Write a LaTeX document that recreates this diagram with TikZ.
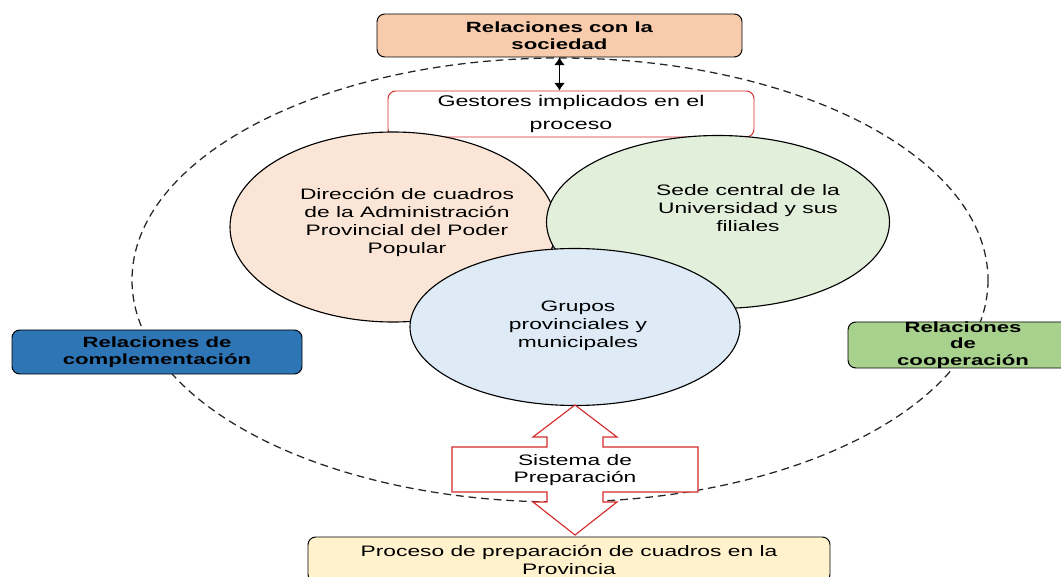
\documentclass[tikz,border=0pt]{standalone}
\usepackage{fontspec}
\setmainfont{Liberation Sans}[FakeStretch=1.5]
\usepackage{xcolor}
\usetikzlibrary{shapes.geometric,arrows.meta}
\definecolor{sociedad}{HTML}{F8CBAD}
\definecolor{direccion}{HTML}{FBE5D6}
\definecolor{sede}{HTML}{E2EFDA}
\definecolor{grupos}{HTML}{DEEBF7}
\definecolor{complem}{HTML}{2E75B6}
\definecolor{coop}{HTML}{A9D18E}
\definecolor{proceso}{HTML}{FFF2CC}
\definecolor{rojo}{HTML}{D42A2A}
\newcommand{\pxu}{0.025cm}

\begin{document}
\begin{tikzpicture}[x=0.025cm,y=-0.025cm,
  caja/.style={draw,rounded corners=5.5pt,line width=0.7pt,align=center,inner sep=0pt},
  negrita/.style={font=\fontsize{10.5}{12}\selectfont\bfseries},
  normal/.style={font=\fontsize{10.8}{12.8}\selectfont},
  elipse/.style={draw,ellipse,line width=0.8pt,inner sep=0pt}]
  \useasboundingbox (0,0) rectangle (1061,577);
  % contorno discontinuo
  \draw[dash pattern=on 5.5pt off 3.5pt,line width=0.9pt,black!85] (560,280) ellipse [x radius=428, y radius=222];
  % cajas de relaciones
  \node[caja,negrita,fill=sociedad,minimum width=365*\pxu,minimum height=43*\pxu] (soc) at (559.5,35.5) {Relaciones con la\\sociedad};
  \node[caja,negrita,fill=complem,minimum width=290*\pxu,minimum height=44*\pxu] (comp) at (157,352) {Relaciones de\\complementación};
  \node[caja,fill=coop,minimum width=230*\pxu,minimum height=46*\pxu] (coop) at (963,345) {};
  \node[negrita,align=center,font=\fontsize{10.5}{11.7}\selectfont\bfseries] (coopt) at (coop.center) {Relaciones\\de\\cooperación};
  \node[caja,draw=rojo,fill=white,minimum width=366*\pxu,minimum height=46*\pxu,
        font=\fontsize{11}{16.4}\selectfont] (ges) at (571,114) {Gestores implicados en el\\proceso};
  \draw[line width=1.2pt,{Latex[length=5.5pt,width=8pt]}-{Latex[length=5.5pt,width=8pt]}] (soc.south) -- (soc.south |- ges.north);
  % los tres grupos de gestores
  \node[elipse,fill=direccion,minimum width=326*\pxu,minimum height=190*\pxu] (dir) at (393,227) {};
  \node[elipse,fill=sede,minimum width=343*\pxu,minimum height=173*\pxu] (sed) at (718,222) {};
  \node[elipse,fill=grupos,minimum width=330*\pxu,minimum height=157*\pxu] (gru) at (575,327) {};
  \node[normal,align=center] (dirt) at (407,222) {Dirección de cuadros\\de la Administración\\Provincial del Poder\\Popular};
  \node[normal,align=center] (sedt) at (748,208) {Sede central de la\\Universidad y sus\\filiales};
  \node[normal,align=center] (grut) at (578,326) {Grupos\\provinciales y\\municipales};
  % flecha doble del sistema de preparacion
  \draw[rojo,fill=white,line width=0.8pt] (575,405) -- (617,437) -- (603,437) -- (603,447) -- (698,447)
    -- (698,492) -- (603,492) -- (603,502) -- (617,502) -- (575,535) -- (533,502) -- (547,502)
    -- (547,492) -- (452,492) -- (452,447) -- (547,447) -- (547,437) -- (533,437) -- cycle;
  \node[normal,align=center,font=\fontsize{10.8}{12}\selectfont] (sis) at (575,470) {Sistema de\\Preparación};
  \node[caja,normal,fill=proceso,minimum width=522*\pxu,minimum height=45*\pxu] (pro) at (569,559.5) {Proceso de preparación de cuadros en la\\Provincia};
\end{tikzpicture}
\end{document}
